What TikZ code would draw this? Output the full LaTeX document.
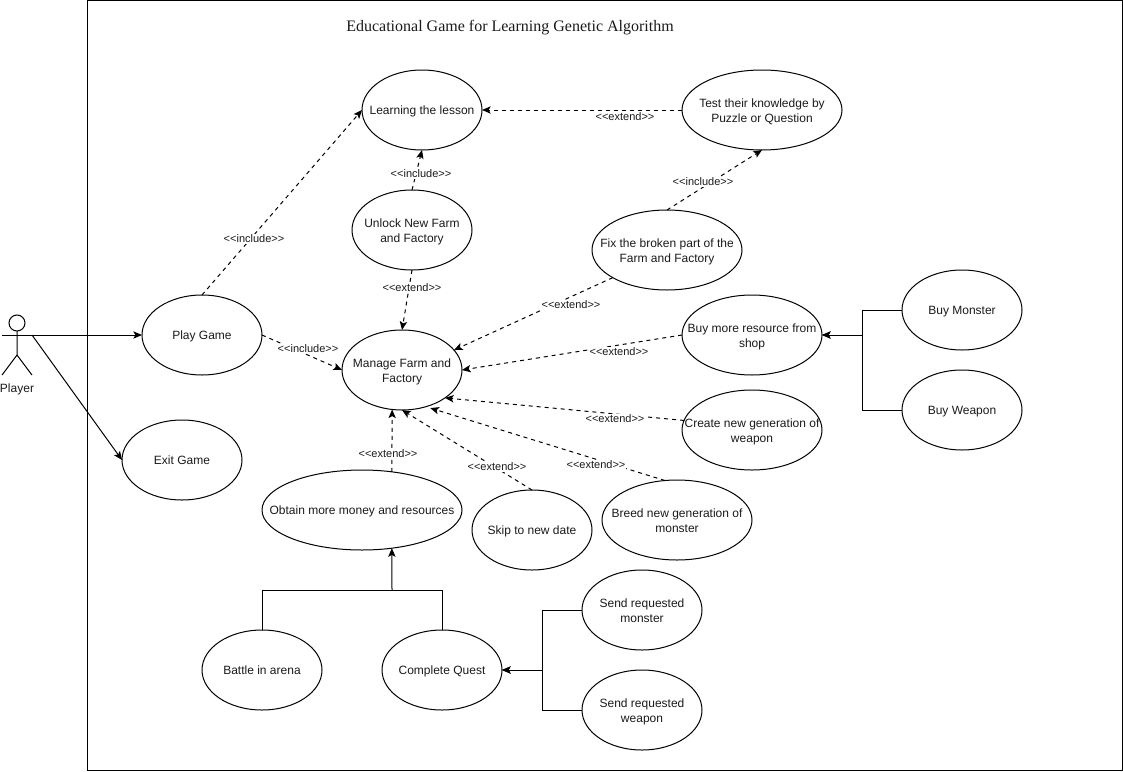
\documentclass[tikz,border=0pt]{standalone}
\usepackage{fontspec}
\setmainfont{Liberation Sans}
\newfontfamily\titlefont{Liberation Serif}
\usetikzlibrary{shapes.geometric,arrows.meta}
\definecolor{txt}{HTML}{1A1A1A}
\newcommand{\extlab}{<{}<extend>{}>}
\newcommand{\inclab}{<{}<include>{}>}
\tikzset{
  x=0.75pt,y=-0.75pt,
  uc/.style={draw=black,line width=0.75pt,ellipse,inner xsep=-70pt,inner ysep=-25pt,outer sep=0pt,minimum height=60pt,
    align=center,font=\fontsize{9}{11.25}\selectfont,text=txt,
    execute at begin node={\rule{0pt}{9pt}},execute at end node={\rule[-3pt]{0pt}{3pt}}},
  two/.style={execute at begin node={\rule{0pt}{22pt}}},
  uca/.style={uc,minimum width=90pt},
  ucb/.style={uc,minimum width=105pt},
  ucc/.style={uc,minimum width=112.5pt},
  ucd/.style={uc,minimum width=120pt},
  uce/.style={uc,minimum width=150pt},
  solidarrow/.style={line width=0.75pt,-{Stealth[length=6.5pt,width=5.5pt,inset=1.5pt]}},
  plainline/.style={line width=0.75pt},
  dep/.style={line width=0.75pt,dash pattern=on 3pt off 3pt,-{Stealth[length=6.5pt,width=5.5pt,inset=1.5pt]}},
  lab/.style={fill=white,inner sep=0.6pt,font=\fontsize{8.25}{9}\selectfont,text=txt},
}
\begin{document}
\begin{tikzpicture}
\useasboundingbox (0,0) rectangle (1123,771);
\draw[line width=0.75pt] (87.5,0.5) rectangle (1122.5,770.5);
\node[font=\titlefont\fontsize{12}{14}\selectfont,text=txt] (title) at (510,28) {Educational Game for Learning Genetic Algorithm};

% actor
\draw[line width=0.75pt] (17,323) circle (6pt);
\draw[line width=0.75pt] (17,331) -- (17,355) (17,355) -- (2,375) (17,355) -- (32,375);
\coordinate (armL) at (2,335);
\coordinate (armR) at (32,335);
\node[font=\fontsize{9}{11}\selectfont,text=txt] (player) at (17,389) {Player};

\node[uca] (learn) at (422,110) {Learning the lesson};
\node[ucd,two] (test) at (762,110) {Test their knowledge by\\Puzzle or Question};
\node[uca,two] (unlock) at (412,230) {Unlock New Farm\\and Factory};
\node[ucc,two] (fix) at (667,250) {Fix the broken part of the\\Farm and Factory};
\node[uca] (play) at (202,335) {Play Game};
\node[uca,two] (manage) at (402,370) {Manage Farm and\\Factory};
\node[ucb,two] (shop) at (752,335) {Buy more resource from\\shop};
\node[uca] (monster) at (962,310) {Buy Monster};
\node[uca] (weapon) at (962,410) {Buy Weapon};
\node[ucb,two] (create) at (752,430) {Create new generation of\\weapon};
\node[ucc,two] (breed) at (677,520) {Breed new generation of\\monster};
\node[uca] (skip) at (532,530) {Skip to new date};
\node[uce] (obtain) at (362,510) {Obtain more money and resources};
\node[uca] (exit) at (182,460) {Exit Game};
\node[uca] (battle) at (262,670) {Battle in arena};
\node[uca] (quest) at (442,670) {Complete Quest};
\node[uca,two] (sendm) at (642,610) {Send requested\\monster};
\node[uca,two] (sendw) at (642,710) {Send requested\\weapon};

% actor links
\draw[solidarrow] (armL) -- (play.west);
\draw[solidarrow] (armR) -- (exit.west);

% dependencies
\draw[dep] (play.north) -- (learn.west);
\node[lab] (l0) at (254,239) {\inclab};
\draw[dep] (unlock.north) -- (learn.south);
\node[lab] (l11) at (421,174) {\inclab};
\draw[dep] (test.west) -- (learn.east);
\node[lab] (l1) at (625,117) {\extlab};
\draw[dep] (fix.north) -- (test.south);
\node[lab] (l2) at (703,182) {\inclab};
\draw[dep] (unlock.south) -- (manage.north);
\node[lab] (l3) at (412,288) {\extlab};
\draw[dep] (fix.207) -- (manage.21);
\node[lab] (l4) at (571,305) {\extlab};
\draw[dep] (shop.west) -- (manage.east);
\node[lab] (l5) at (619,352) {\extlab};
\draw[dep] (create.172) -- (manage.-33);
\node[lab] (l6) at (615,419) {\extlab};
\draw[dep,shorten >=3.5pt] (breed.107) -- (manage.-57);
\node[lab] (l7) at (596,465) {\extlab};
\draw[dep] (skip.north) -- (manage.south);
\node[lab] (l8) at (497,467) {\extlab};
\draw[dep] (obtain.52) -- (manage.256);
\node[lab] (l9) at (388,454) {\extlab};
\draw[dep] (play.east) -- (manage.west);
\node[lab] (l10) at (308,349) {\inclab};

% generalisations
\coordinate (jshop) at (862,335);
\coordinate (jobt) at (392,590);
\coordinate (jquest) at (542,670);
\draw[solidarrow] (monster.west) -| (jshop) -- (shop.east);
\draw[solidarrow] (weapon.west) -| (jshop) -- (shop.east);
\draw[plainline] (battle.north) |- (jobt);
\draw[plainline] (quest.north) |- (jobt);
\draw[solidarrow] (jobt) -- (obtain.-52);
\draw[solidarrow] (sendm.west) -| (jquest) -- (quest.east);
\draw[solidarrow] (sendw.west) -| (jquest) -- (quest.east);
\end{tikzpicture}
\end{document}
